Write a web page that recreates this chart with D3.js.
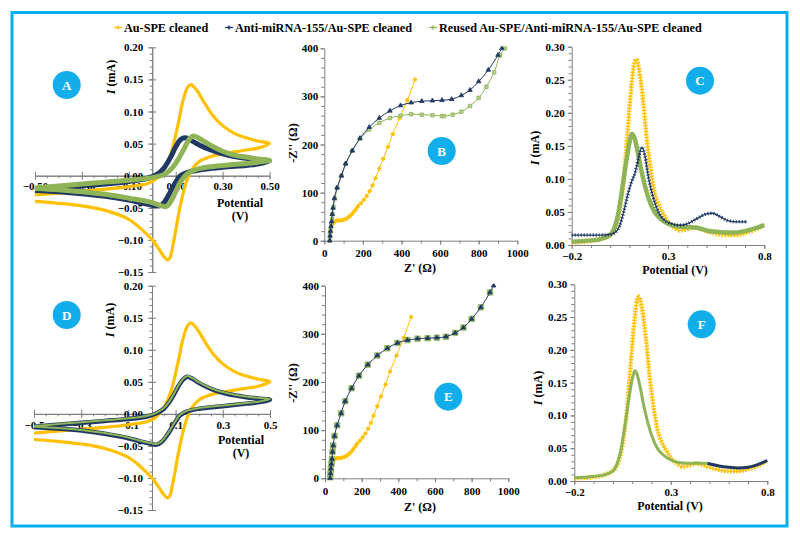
<!DOCTYPE html>
<meta charset="utf-8">
<style>
  body { margin: 0; background: #fff; }
  svg { font-family: "Liberation Serif", "DejaVu Serif", serif; font-weight: bold; }
  .axis path, .axis line { stroke: #7f7f7f; }
  .axis text { font-family: "Liberation Serif", "DejaVu Serif", serif; font-weight: bold; font-size: 11px; fill: #000; }
  .title { font-size: 12px; fill: #000; }
  .legend { font-size: 12.2px; fill: #000; }
</style>
<body>
<svg width="800" height="539"></svg>
<script src="https://cdn.jsdelivr.net/npm/d3@7/dist/d3.min.js"></script>
<script>
  // series names + colours
  const seriesNames = ["Au-SPE cleaned", "Anti-miRNA-155/Au-SPE cleaned", "Reused Au-SPE/Anti-miRNA-155/Au-SPE cleaned"];
  const seriesColors = ["#FFC000", "#1F3864", "#8FB458"];
  const legendX = [118, 229, 433];

  // tick labels
  const cvTicksX = [-0.5, -0.3, -0.1, 0.1, 0.3, 0.5];
  const cvTicksY = [-0.15, -0.10, -0.05, 0.00, 0.05, 0.10, 0.15, 0.20];
  const eisTicksX = [0, 200, 400, 600, 800, 1000];
  const eisTicksY = [0, 100, 200, 300, 400];
  const dpvTicksX = [-0.2, 0.3, 0.8];
  const dpvTicksY = [0.00, 0.05, 0.10, 0.15, 0.20, 0.25, 0.30];

  // CV (potential V, current mA), scan order
  const cvAu = [[-0.5,-0.030],[-0.4,-0.027],[-0.3,-0.024],[-0.2,-0.021],[-0.1,-0.017],[-0.02,-0.012],[0.02,-0.004],[0.05,0.01],[0.08,0.035],[0.11,0.08],[0.13,0.115],[0.15,0.137],[0.165,0.142],[0.19,0.133],[0.22,0.115],[0.26,0.093],[0.3,0.078],[0.35,0.066],[0.4,0.059],[0.45,0.054],[0.5,0.050],
    [0.45,0.043],[0.4,0.040],[0.35,0.037],[0.3,0.034],[0.25,0.030],[0.2,0.022],[0.17,0.010],[0.15,-0.005],[0.13,-0.03],[0.11,-0.065],[0.09,-0.105],[0.075,-0.128],[0.065,-0.131],[0.05,-0.126],[0.03,-0.115],[0.0,-0.100],[-0.05,-0.082],[-0.1,-0.068],[-0.2,-0.054],[-0.3,-0.047],[-0.4,-0.043],[-0.5,-0.040]];
  const cvAnti = [[-0.5,-0.022],[-0.4,-0.019],[-0.3,-0.016],[-0.2,-0.013],[-0.1,-0.009],[-0.02,-0.004],[0.02,0.002],[0.05,0.012],[0.08,0.03],[0.1,0.045],[0.12,0.056],[0.14,0.059],[0.16,0.056],[0.2,0.048],[0.25,0.040],[0.3,0.034],[0.35,0.030],[0.4,0.027],[0.45,0.025],[0.5,0.023],
    [0.45,0.018],[0.4,0.016],[0.3,0.013],[0.2,0.009],[0.15,0.005],[0.12,0.0],[0.1,-0.01],[0.07,-0.03],[0.05,-0.042],[0.03,-0.047],[0.0,-0.046],[-0.05,-0.042],[-0.1,-0.038],[-0.2,-0.032],[-0.3,-0.028],[-0.4,-0.025],[-0.5,-0.023]];
  const cvReused = [[-0.5,-0.019],[-0.4,-0.016],[-0.3,-0.013],[-0.2,-0.010],[-0.1,-0.007],[0.0,-0.003],[0.05,0.002],[0.08,0.01],[0.11,0.025],[0.14,0.045],[0.16,0.058],[0.175,0.062],[0.2,0.058],[0.25,0.047],[0.3,0.038],[0.35,0.032],[0.4,0.029],[0.45,0.026],[0.5,0.024],
    [0.45,0.021],[0.4,0.019],[0.3,0.016],[0.2,0.011],[0.15,0.003],[0.12,-0.01],[0.1,-0.025],[0.08,-0.04],[0.06,-0.048],[0.04,-0.047],[0.0,-0.042],[-0.1,-0.035],[-0.2,-0.029],[-0.3,-0.025],[-0.4,-0.022],[-0.5,-0.020]];
  const cvAntiD = [[-0.5,-0.020],[-0.4,-0.017],[-0.3,-0.014],[-0.2,-0.011],[-0.1,-0.008],[-0.02,-0.004],[0.02,0.001],[0.05,0.008],[0.08,0.022],[0.11,0.042],[0.13,0.053],[0.15,0.058],[0.17,0.055],[0.2,0.048],[0.25,0.039],[0.3,0.033],[0.35,0.029],[0.4,0.026],[0.45,0.024],[0.5,0.022],
    [0.45,0.018],[0.4,0.016],[0.3,0.012],[0.2,0.008],[0.15,0.004],[0.12,-0.002],[0.1,-0.012],[0.07,-0.03],[0.04,-0.044],[0.02,-0.048],[0.0,-0.047],[-0.05,-0.043],[-0.1,-0.038],[-0.2,-0.031],[-0.3,-0.026],[-0.4,-0.023],[-0.5,-0.021]];
  const cvReusedD = [[-0.5,-0.019],[-0.4,-0.016],[-0.3,-0.013],[-0.2,-0.010],[-0.1,-0.007],[-0.02,-0.003],[0.02,0.002],[0.05,0.009],[0.08,0.023],[0.11,0.043],[0.13,0.054],[0.15,0.059],[0.17,0.056],[0.2,0.049],[0.25,0.040],[0.3,0.034],[0.35,0.030],[0.4,0.027],[0.45,0.025],[0.5,0.023],
    [0.45,0.019],[0.4,0.017],[0.3,0.013],[0.2,0.009],[0.15,0.005],[0.12,-0.001],[0.1,-0.011],[0.07,-0.029],[0.04,-0.043],[0.02,-0.047],[0.0,-0.046],[-0.05,-0.042],[-0.1,-0.037],[-0.2,-0.030],[-0.3,-0.025],[-0.4,-0.022],[-0.5,-0.020]];

  // EIS Nyquist (Z', -Z'') in ohm
  const eisAu = [[28,0],[30,10],[32,20],[35,28],[40,33],[47,37],[55,40],[65,42],[75,42],[85,42],[95,43],[105,44],[115,46],[125,49],[135,52],[145,56],[155,61],[165,66],[175,72],[190,78],[205,85],[220,93],[235,103],[250,115],[265,130],[285,150],[305,170],[330,195],[355,222],[390,255],[430,292],[470,335]];
  const eisAnti = [[28,0],[30,10],[32,20],[35,30],[38,40],[41,55],[45,68],[52,88],[66,110],[88,135],[110,160],[145,187],[185,213],[233,236],[285,255],[340,270],[395,281],[450,287],[505,290],[560,291],[610,292],[660,294],[710,302],[755,313],[800,331],[850,355],[900,386],[920,400]];
  const eisReused = [[28,0],[30,12],[33,25],[36,35],[40,45],[43,55],[48,70],[55,88],[68,110],[90,135],[112,160],[145,187],[185,212],[232,231],[285,245],[340,255],[395,260],[450,263],[505,262],[560,261],[610,259],[620,259],[665,262],[710,268],[755,280],[800,297],[840,320],[880,350],[910,385],[935,400]];
  const eisReusedE = [[28,0],[30,10],[32,20],[35,30],[38,40],[41,55],[45,68],[52,88],[66,110],[88,135],[110,160],[145,187],[185,213],[233,236],[285,255],[340,270],[395,281],[450,287],[505,290],[560,291],[610,292],[660,294],[710,302],[755,313],[800,331],[850,355],[900,386]];

  // DPV (potential V, current mA)
  const dpvAu = [[-0.2,0.004],[-0.1,0.006],[-0.05,0.009],[0.0,0.016],[0.03,0.03],[0.05,0.055],[0.07,0.1],[0.09,0.17],[0.11,0.24],[0.125,0.275],[0.135,0.281],[0.15,0.265],[0.17,0.22],[0.19,0.16],[0.21,0.115],[0.23,0.08],[0.26,0.055],[0.28,0.045],[0.3,0.035],[0.33,0.027],[0.36,0.022],[0.4,0.024],[0.43,0.027],[0.46,0.025],[0.5,0.021],[0.55,0.017],[0.6,0.015],[0.65,0.015],[0.7,0.018],[0.75,0.023],[0.8,0.031]];
  const dpvAnti = [[-0.2,0.015],[-0.1,0.015],[-0.05,0.015],[0.0,0.016],[0.03,0.02],[0.05,0.03],[0.07,0.05],[0.09,0.075],[0.11,0.095],[0.13,0.11],[0.15,0.135],[0.165,0.148],[0.18,0.135],[0.2,0.1],[0.22,0.075],[0.25,0.05],[0.28,0.038],[0.32,0.032],[0.36,0.03],[0.4,0.032],[0.45,0.04],[0.5,0.047],[0.53,0.048],[0.57,0.043],[0.61,0.037],[0.66,0.035],[0.71,0.035]];
  const dpvReused = [[-0.2,0.005],[-0.1,0.007],[-0.05,0.009],[0.0,0.015],[0.02,0.025],[0.04,0.045],[0.06,0.08],[0.08,0.12],[0.1,0.155],[0.113,0.168],[0.125,0.163],[0.14,0.145],[0.16,0.115],[0.18,0.09],[0.2,0.07],[0.23,0.05],[0.26,0.04],[0.3,0.032],[0.35,0.028],[0.4,0.027],[0.45,0.026],[0.5,0.022],[0.55,0.02],[0.6,0.019],[0.65,0.019],[0.7,0.021],[0.75,0.025],[0.8,0.03]];
  const dpvReusedF = [[-0.2,0.005],[-0.1,0.007],[-0.05,0.009],[0.0,0.015],[0.02,0.025],[0.04,0.045],[0.06,0.08],[0.08,0.12],[0.1,0.155],[0.114,0.168],[0.125,0.163],[0.14,0.145],[0.16,0.115],[0.18,0.09],[0.2,0.07],[0.23,0.05],[0.26,0.04],[0.3,0.032],[0.35,0.028],[0.4,0.027],[0.45,0.027],[0.49,0.027]];
  const dpvAntiF = [[0.49,0.027],[0.55,0.023],[0.6,0.021],[0.65,0.02],[0.7,0.021],[0.75,0.025],[0.8,0.031]];

  const svg = d3.select("svg").attr("font-family", "Liberation Serif, DejaVu Serif, serif");

  svg.append("rect")
      .attr("x", 12).attr("y", 12.5).attr("width", 775).attr("height", 513.5)
      .attr("fill", "none").attr("stroke", "#00B0F0").attr("stroke-width", 3);

  // legend
  seriesNames.forEach((name, i) => {
    const item = svg.append("g").attr("transform", `translate(${legendX[i]},27.5)`);
    item.append("line").attr("x1", -4).attr("x2", 4).attr("stroke", seriesColors[i]).attr("stroke-width", 1.2);
    item.append("path").attr("d", d3.symbol(d3.symbolCross, 10)()).attr("fill", seriesColors[i]);
    item.append("text").attr("x", 6).attr("dy", "0.35em").attr("class", "legend").text(name);
  });

  function panel(cfg) {
    const x = d3.scaleLinear().domain(cfg.xDomain).range(cfg.xRange);
    const y = d3.scaleLinear().domain(cfg.yDomain).range(cfg.yRange);
    const g = svg.append("g");
    const ax = y(cfg.xAt), ay = x(cfg.yAt);

    // minor ticks
    g.append("g").attr("class", "axis").attr("transform", `translate(0,${ax})`)
      .call(d3.axisBottom(x).tickValues(cfg.xMinor).tickFormat("").tickSize(cfg.cross ? 2.5 : 3).tickSizeOuter(0))
      .call(s => s.select("path").remove());
    g.append("g").attr("class", "axis").attr("transform", `translate(${ay},0)`)
      .call(d3.axisLeft(y).tickValues(cfg.yMinor).tickFormat("").tickSize(cfg.cross ? 2.5 : 3).tickSizeOuter(0))
      .call(s => s.select("path").remove());
    if (cfg.cross) {
      g.append("g").attr("class", "axis").attr("transform", `translate(0,${ax})`)
        .call(d3.axisTop(x).tickValues(cfg.xMajor).tickFormat("").tickSize(4).tickSizeOuter(0));
      g.append("g").attr("class", "axis").attr("transform", `translate(${ay},0)`)
        .call(d3.axisRight(y).tickValues(cfg.yMajor).tickFormat("").tickSize(4).tickSizeOuter(0));
    }
    g.append("g").attr("class", "axis").attr("transform", `translate(0,${ax})`)
      .call(d3.axisBottom(x).tickValues(cfg.xMajor).tickFormat(d3.format(cfg.xFmt)).tickSize(4).tickPadding(cfg.xPad).tickSizeOuter(0));
    g.append("g").attr("class", "axis").attr("transform", `translate(${ay},0)`)
      .call(d3.axisLeft(y).tickValues(cfg.yMajor).tickFormat(d3.format(cfg.yFmt)).tickSize(4).tickPadding(cfg.yPad).tickSizeOuter(0));
    g.selectAll(".axis").attr("font-family", null);

    const id = "clip" + cfg.letter;
    svg.append("clipPath").attr("id", id).append("rect")
      .attr("x", cfg.xRange[0] - 4).attr("y", cfg.yRange[1] - 2)
      .attr("width", cfg.xRange[1] - cfg.xRange[0] + 8).attr("height", cfg.yRange[0] - cfg.yRange[1] + 4);
    const plot = svg.append("g").attr("clip-path", `url(#${id})`);

    // badge
    const b = svg.append("g").attr("transform", `translate(${cfg.badge[0]},${cfg.badge[1]})`);
    b.append("circle").attr("r", 14).attr("fill", "#12AEEC");
    b.append("text").attr("text-anchor", "middle").attr("dy", "0.36em")
      .attr("fill", "#fff").attr("font-size", "13px").text(cfg.letter);

    return {x, y, g, plot};
  }

  function yTitle(px, py, kind) {
    const t = svg.append("text").attr("class", "title").attr("text-anchor", "middle")
      .attr("transform", `translate(${px},${py}) rotate(-90)`).attr("dy", "0.35em");
    if (kind === "I") {
      t.append("tspan").attr("font-style", "italic").text("I");
      t.append("tspan").text(" (mA)");
    } else {
      t.text("-Z'' (\u03A9)");
    }
  }
  function xTitle(lines, px, py) {
    lines.forEach((s, i) => {
      svg.append("text").attr("class", "title").attr("text-anchor", "middle")
        .attr("x", px).attr("y", py + i * 12.5).attr("dy", "0.35em").text(s);
    });
  }

  function line(p, data, color, width, curve, dash) {
    const gen = d3.line().x(d => p.x(d[0])).y(d => p.y(d[1])).curve(curve);
    const path = p.plot.append("path").attr("d", gen(data)).attr("fill", "none")
      .attr("stroke", color).attr("stroke-width", width).attr("stroke-linejoin", "round");
    if (dash) path.attr("stroke-dasharray", dash);
    return path;
  }
  function markers(p, data, color, type, size, fill) {
    p.plot.selectAll(null).data(data).enter().append("path")
      .attr("transform", d => `translate(${p.x(d[0])},${p.y(d[1])})`)
      .attr("d", d3.symbol(type, size)())
      .attr("fill", fill || color).attr("stroke", color).attr("stroke-width", 0.8);
  }

  const loop = d3.curveCatmullRom.alpha(0.5);
  const smooth = d3.curveMonotoneX;
  const minor = (a, b, s) => d3.range(Math.round((b - a) / s) + 1).map(i => +(a + i * s).toFixed(4));

  // ---- CV panels
  const cvCfg = (letter, xr, yr, badge, fmt) => ({
    letter, xDomain: [-0.5, 0.5], xRange: xr, yDomain: [-0.15, 0.20], yRange: yr,
    xAt: 0, yAt: 0, cross: true, xMajor: cvTicksX, xMinor: minor(-0.5, 0.5, 0.05),
    yMajor: cvTicksY, yMinor: minor(-0.15, 0.2, 0.01), xFmt: fmt, yFmt: ".2f",
    xPad: 3, yPad: 5, badge
  });

  const pA = panel(cvCfg("A", [35, 269.5], [272, 47.3], [66.7, 85], ".2f"));
  line(pA, cvAu, seriesColors[0], 3.2, loop);
  line(pA, cvAnti, seriesColors[1], 5, loop);
  line(pA, cvReused, seriesColors[2], 5, loop);
  yTitle(111, 77, "I");
  xTitle(["Potential", "(V)"], 240, 203);

  const pD = panel(cvCfg("D", [34, 270], [510, 285.7], [66.7, 315], ".1f"));
  line(pD, cvAu, seriesColors[0], 3.2, loop);
  line(pD, cvAntiD, seriesColors[1], 4.5, loop);
  line(pD, cvReusedD, seriesColors[2], 2, loop);
  yTitle(110, 320, "I");
  xTitle(["Potential", "(V)"], 241, 440);

  // ---- EIS panels
  const eisCfg = (letter, xr, yr, badge) => ({
    letter, xDomain: [0, 1000], xRange: xr, yDomain: [0, 400], yRange: yr,
    xAt: 0, yAt: 0, cross: false, xMajor: eisTicksX, xMinor: minor(0, 1000, 100),
    yMajor: eisTicksY, yMinor: minor(0, 400, 20), xFmt: "d", yFmt: "d",
    xPad: 5, yPad: 2, badge
  });

  const pB = panel(eisCfg("B", [324.3, 517.3], [240.7, 48.3], [441.7, 151]));
  line(pB, eisAu, seriesColors[0], 1, smooth);
  markers(pB, eisAu, seriesColors[0], d3.symbolCircle, 9);
  line(pB, eisReused, seriesColors[2], 1, d3.curveCatmullRom);
  markers(pB, eisReused, seriesColors[2], d3.symbolSquare, 12, "#B5CF8A");
  line(pB, eisAnti, seriesColors[1], 1, d3.curveCatmullRom);
  markers(pB, eisAnti, seriesColors[1], d3.symbolTriangle, 9);
  yTitle(293, 143, "Z");
  xTitle(["Z' (\u03A9)"], 420, 268);

  const pE = panel(eisCfg("E", [325, 508.3], [478.3, 285.7], [448.3, 396.7]));
  line(pE, eisAu, seriesColors[0], 1, smooth);
  markers(pE, eisAu, seriesColors[0], d3.symbolCircle, 9);
  markers(pE, eisReusedE, seriesColors[2], d3.symbolSquare, 30, "#9DBF6A");
  line(pE, eisAnti, seriesColors[1], 1, d3.curveCatmullRom);
  markers(pE, eisAnti, seriesColors[1], d3.symbolTriangle, 9);
  yTitle(293, 383, "Z");
  xTitle(["Z' (\u03A9)"], 420, 507);

  // ---- DPV panels
  const dpvCfg = (letter, xr, yr, badge) => ({
    letter, xDomain: [-0.2, 0.8], xRange: xr, yDomain: [0, 0.30], yRange: yr,
    xAt: 0, yAt: -0.2, cross: false, xMajor: dpvTicksX, xMinor: minor(-0.2, 0.8, 0.1),
    yMajor: dpvTicksY, yMinor: minor(0, 0.3, 0.01), xFmt: ".1f", yFmt: ".2f",
    xPad: 3, yPad: 3, badge
  });

  const pC = panel(dpvCfg("C", [571.7, 764.3], [245, 46.7], [700, 80.7]));
  line(pC, dpvAu, seriesColors[0], 1.2, smooth);
  line(pC, dpvAu, seriesColors[0], 4.5, smooth, "1.6,1.4");
  line(pC, dpvReused, seriesColors[2], 4.5, smooth);
  line(pC, dpvAnti, seriesColors[1], 1.3, smooth);
  line(pC, dpvAnti, seriesColors[1], 3.5, smooth, "1,2");
  yTitle(535, 148, "I");
  xTitle(["Potential  (V)"], 675, 269.5);

  const pF = panel(dpvCfg("F", [574.3, 767.3], [481, 284.3], [701.7, 324.3]));
  line(pF, dpvAu, seriesColors[0], 1.2, smooth);
  line(pF, dpvAu, seriesColors[0], 4.5, smooth, "1.6,1.4");
  line(pF, dpvReusedF, seriesColors[2], 3, smooth);
  line(pF, dpvAntiF, seriesColors[1], 3, smooth);
  yTitle(538, 388, "I");
  xTitle(["Potential  (V)"], 670, 505.5);
</script>
</body>
</html>
